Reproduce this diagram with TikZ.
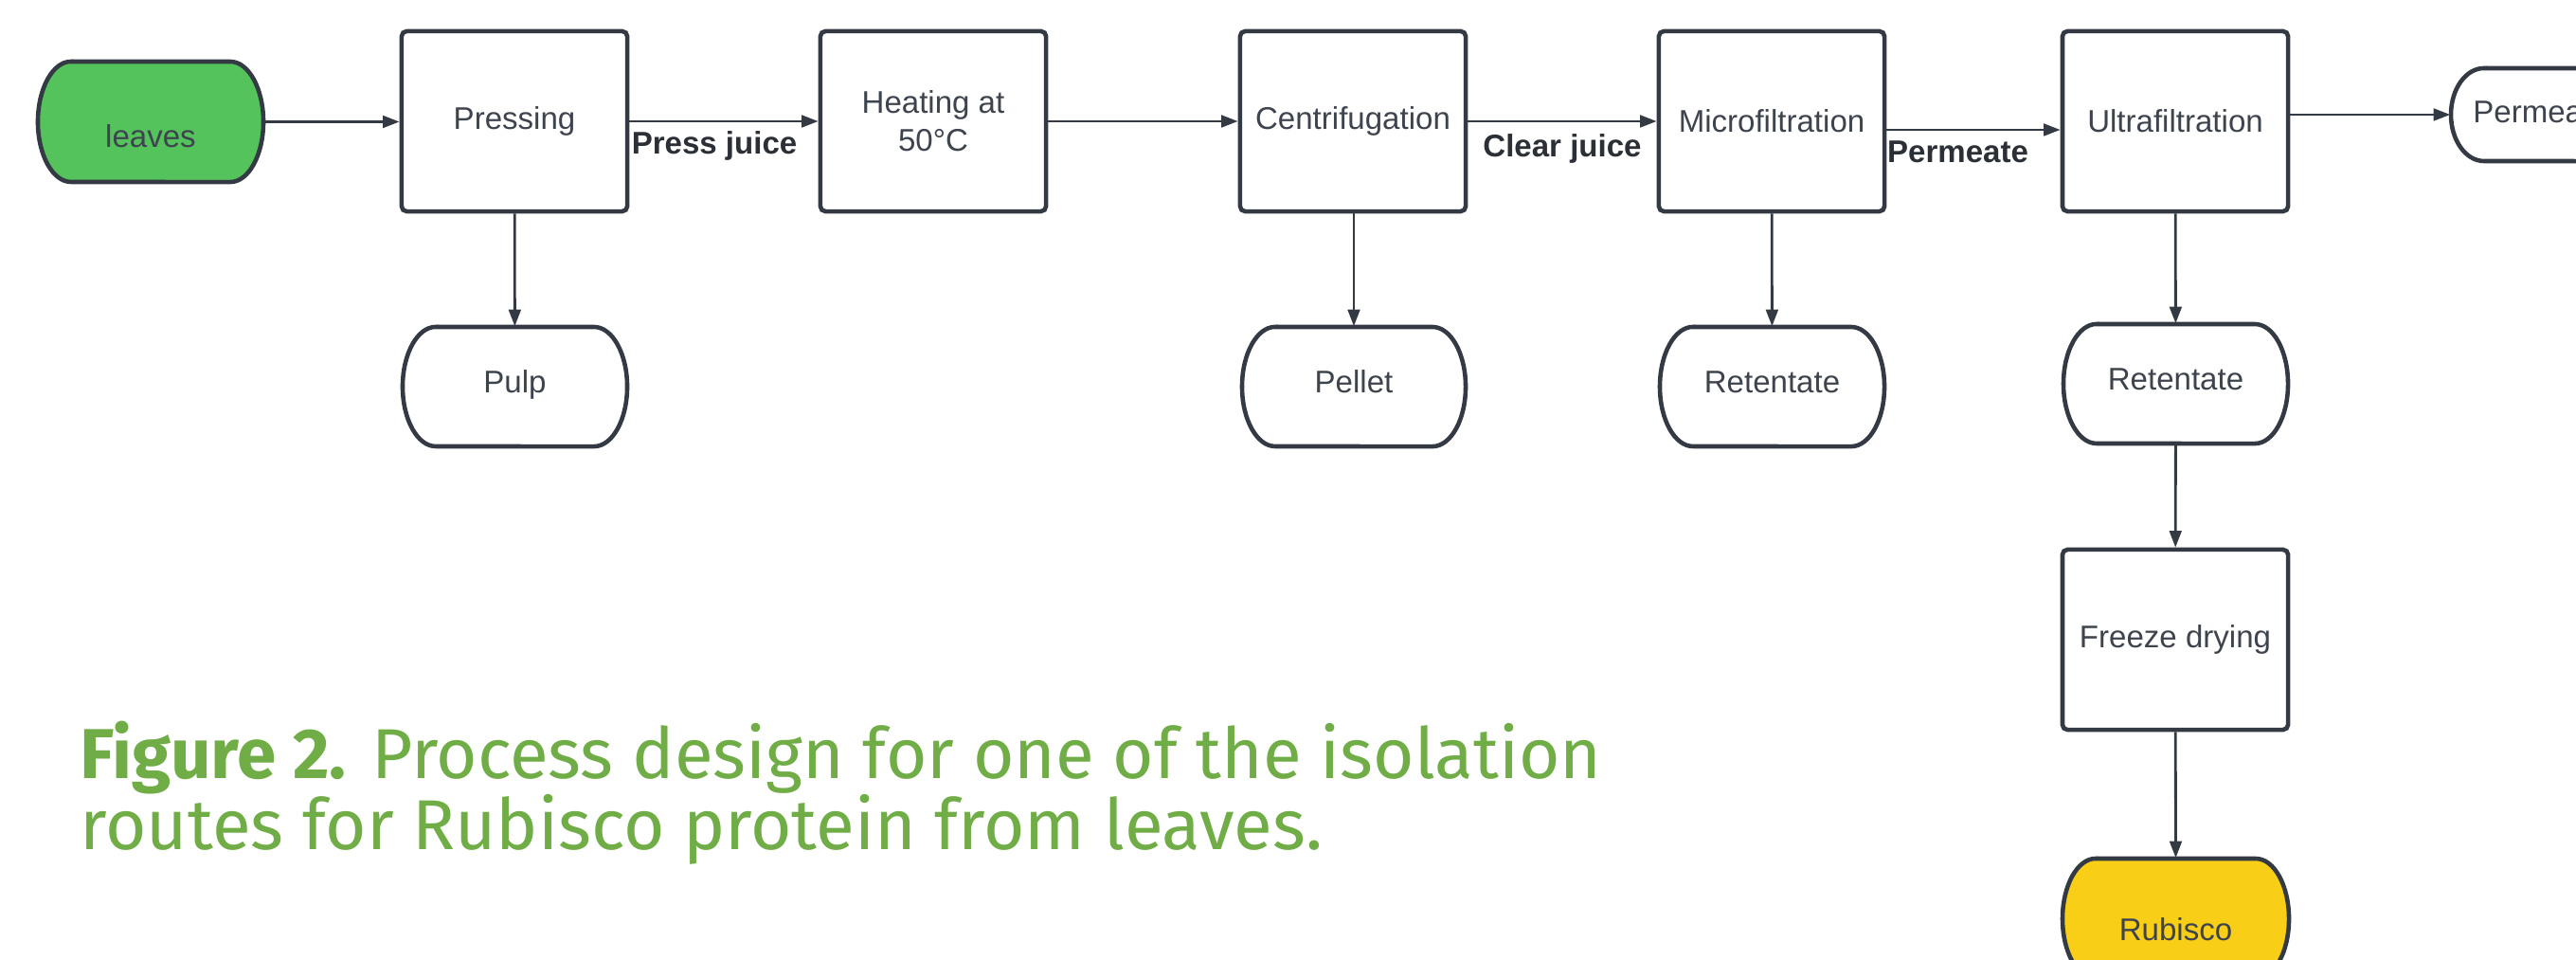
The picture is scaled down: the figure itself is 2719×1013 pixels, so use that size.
\documentclass[tikz,border=0pt]{standalone}
\usepackage{fontspec}
\setmainfont{Liberation Sans}
\newfontfamily\capfont{Fira Sans}
\usetikzlibrary{arrows.meta}
\definecolor{linec}{HTML}{343A44}
\definecolor{txtc}{HTML}{3E444E}
\definecolor{lblc}{HTML}{2B2F36}
\definecolor{leafg}{HTML}{55C35C}
\definecolor{rubY}{HTML}{F9CE17}
\definecolor{capg}{HTML}{70AD47}
\tikzset{
  shapeline/.style={draw=linec,line width=1.3pt},
  termnode/.style={draw=none,inner sep=0pt,text=txtc,font=\fontsize{9.4pt}{11.4pt}\selectfont},
  procbox/.style={draw=linec,line width=1.3pt,rounded corners=1.5pt,fill=white,inner sep=0pt,
    align=center,text=txtc,font=\fontsize{9.4pt}{11.4pt}\selectfont,
    minimum width=2.38cm,minimum height=1.90cm},
  arr/.style={draw=linec,line width=0.8pt,-{Triangle[length=5pt,width=3.6pt]}},
  lbl/.style={inner sep=0pt,text=lblc,font=\fontsize{9.4pt}{11.4pt}\selectfont\bfseries},
  capnode/.style={inner sep=0pt,text=capg,font=\capfont\fontsize{21.2pt}{23pt}\selectfont},
}
% #1 name, #2 L, #3 T, #4 R, #5 B, #6 fill, #7 text, #8 text drop (cm)
\newcommand\terminal[8]{%
  \pgfmathsetmacro\myry{(#5-#3)/200}%
  \pgfmathsetmacro\mynw{(#4-#2)/100}%
  \pgfmathsetmacro\mynh{(#5-#3)/100}%
  \draw[shapeline,fill=#6] ({#2+35},#3) -- ({#4-35},#3)
     arc[start angle=90,end angle=-90,x radius=0.35cm,y radius=\myry cm]
     -- ({#2+35},#5)
     arc[start angle=270,end angle=90,x radius=0.35cm,y radius=\myry cm] -- cycle;
  \node[termnode,minimum width=\mynw cm,minimum height=\mynh cm] (#1)
     at ({(#2+#4)/2},{(#3+#5)/2}) {\raisebox{-#8cm}[0pt][0pt]{#7}};
}
\begin{document}
\begin{tikzpicture}[x=0.01cm,y=-0.01cm]
\useasboundingbox (0,0) rectangle (2719,1013);
\clip (0,0) rectangle (2719,1013);
\fill[white] (0,0) rectangle (2719,1013);

% top row process boxes
\node[procbox] (press)  at (543,128)  {Pressing};
\node[procbox] (heat)   at (985,128)  {Heating at\\50°C};
\node[procbox] (centri) at (1428,128) {Centrifugation};
\node[procbox] (micro)  at (1870,128) {Microfiltration};
\node[procbox] (ultra)  at (2296,128) {Ultrafiltration};
\node[procbox] (freeze) at (2296,675) {Freeze drying};

% terminals
\terminal{leaves}{40}{65}{278}{192}{leafg}{leaves}{0.27}
\terminal{pulp}{425}{345}{662}{471}{white}{Pulp}{0.07}
\terminal{pellet}{1311}{345}{1547}{471}{white}{Pellet}{0.07}
\terminal{ret1}{1752}{345}{1989}{471}{white}{Retentate}{0.07}
\terminal{ret2}{2178}{342}{2415}{468}{white}{Retentate}{0.07}
\terminal{perm}{2587}{72}{2777}{170}{white}{Permeate}{0.09}
\terminal{rubisco}{2177}{906}{2416}{1033}{rubY}{Rubisco}{0.23}

% connectors
\draw[arr] (leaves.east) -- (leaves.east -| press.west);
\draw[arr] (press) -- node[lbl,below=0.09cm,pos=0.45] {Press juice} (heat);
\draw[arr] (heat) -- (centri);
\draw[arr] (centri) -- node[lbl,below=0.12cm,pos=0.5] {Clear juice} (micro);
\draw[arr] ([yshift=-0.09cm]micro.east) -- node[lbl,below=0.10cm,pos=0.41] {Permeate} ([yshift=-0.09cm]ultra.west);
\draw[arr] (perm.west -| ultra.east) -- (perm.west);
\draw[arr] (press) -- (pulp);
\draw[arr] (centri.south -| pellet.north) -- (pellet.north);
\draw[arr] (micro) -- (ret1);
\draw[arr] (ultra) -- (ret2);
\draw[arr] (ret2) -- (freeze);
\draw[arr] (freeze) -- (rubisco.north);

% caption
\node[capnode,anchor=base west] (cap1) at (84,821) {\textbf{Figure 2.} Process design for one of the isolation};
\node[capnode,anchor=base west] (cap2) at (84,896) {routes for Rubisco protein from leaves.};
\end{tikzpicture}
\end{document}
